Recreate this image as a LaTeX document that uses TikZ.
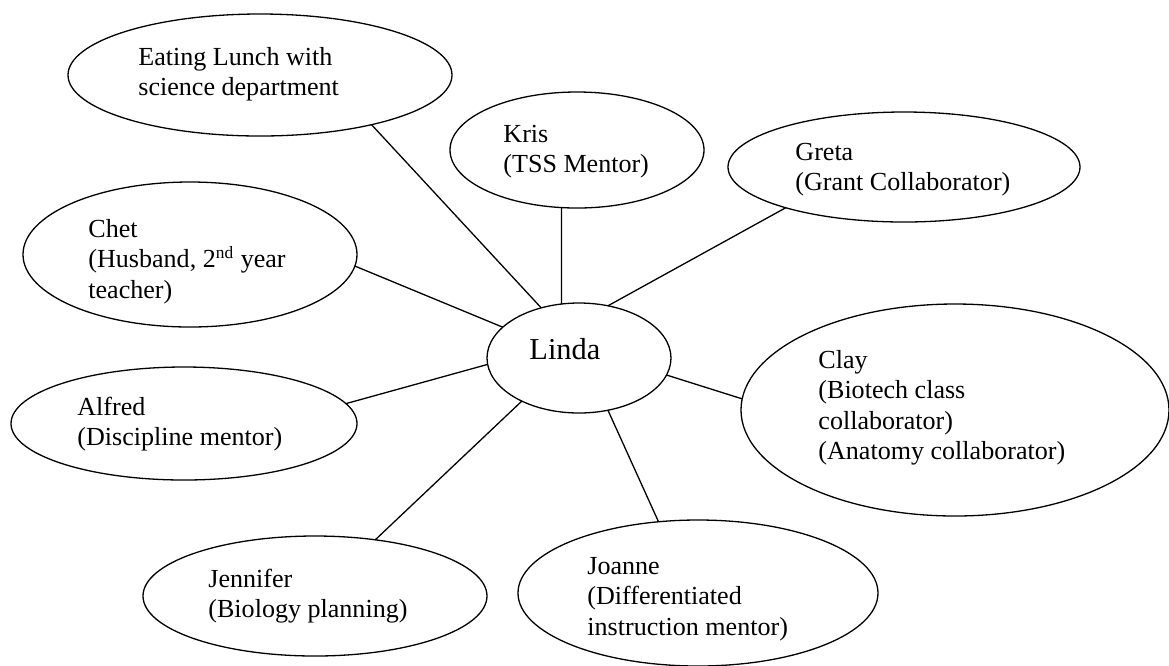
\documentclass[tikz,border=0pt]{standalone}
\usepackage{fontspec}
\setmainfont{Liberation Serif}
\usetikzlibrary{shapes.geometric}

% one drawing unit, as a length for node sizes
\def\pu{0.4605pt}
% left-aligned stack of lines whose baseline is the first line's
\newcommand{\stacklines}[1]{\vtop{\halign{##\hfil\cr#1\crcr}}}

\tikzset{
  bubble/.style 2 args={ellipse, draw, line width=0.6pt, inner sep=0pt,
    outer sep=0pt, minimum width=#1*\pu, minimum height=#2*\pu},
  caption/.style={anchor=base west, inner sep=0pt,
    font=\fontsize{12}{14.05}\selectfont},
  link/.style={line width=0.6pt},
}

\begin{document}
\begin{tikzpicture}[x=0.4605pt, y=-0.4605pt]
\fill[white] (0,0) rectangle (1169,665);
\useasboundingbox (0,0) rectangle (1169,665);

% ellipses
\node[bubble={384}{122}] (lunch)    at (260,75)    {};
\node[bubble={254}{116}] (kris)     at (577,150)   {};
\node[bubble={352}{110}] (greta)    at (904,167)   {};
\node[bubble={334}{145}] (chet)     at (190,254.5) {};
\node[bubble={184}{110}] (linda)    at (579,358)   {};
\node[bubble={428}{212}] (clay)     at (955,410)   {};
\node[bubble={346}{113}] (alfred)   at (184,423.5) {};
\node[bubble={344}{120}] (jennifer) at (315,596)   {};
\node[bubble={360}{146}] (joanne)   at (698,593)   {};

% texts
\node[caption] (lunch-t) at (138,65) {\stacklines{Eating Lunch with\cr science department}};
\node[caption] (kris-t) at (503,142) {\stacklines{Kris\cr (TSS Mentor)}};
\node[caption] (greta-t) at (795,160) {\stacklines{Greta\cr (Grant Collaborator)}};
\node[caption] (chet-t) at (88,237) {\stacklines{Chet\cr (Husband, 2\textsuperscript{nd} year\cr teacher)}};
\node[caption, font=\fontsize{14}{16}\selectfont] (linda-t) at (529,359) {Linda};
\node[caption] (clay-t) at (818,368) {\stacklines{Clay\cr (Biotech class\cr collaborator)\cr (Anatomy collaborator)}};
\node[caption] (alfred-t) at (77,415) {\stacklines{Alfred\cr (Discipline mentor)}};
\node[caption] (jennifer-t) at (208,587) {\stacklines{Jennifer\cr (Biology planning)}};
\node[caption] (joanne-t) at (587,574) {\stacklines{Joanne\cr (Differentiated\cr instruction mentor)}};

% connectors to the centre
\draw[link] (lunch.-24.4)     -- (linda.127.9);
\draw[link] (kris.-105.4)     -- (linda.108.4);
\draw[link] (greta.-161.8)    -- (linda.61.8);
\draw[link] (chet.-4.3)       -- (linda.158.6);
\draw[link] (alfred.7.3)      -- (linda.184.4);
\draw[link] (jennifer.43.6)   -- (linda.-143.7);
\draw[link] (joanne.119.3)    -- (linda.-61.8);
\draw[link] (clay.177.1)      -- (linda.-11.2);
\end{tikzpicture}
\end{document}
